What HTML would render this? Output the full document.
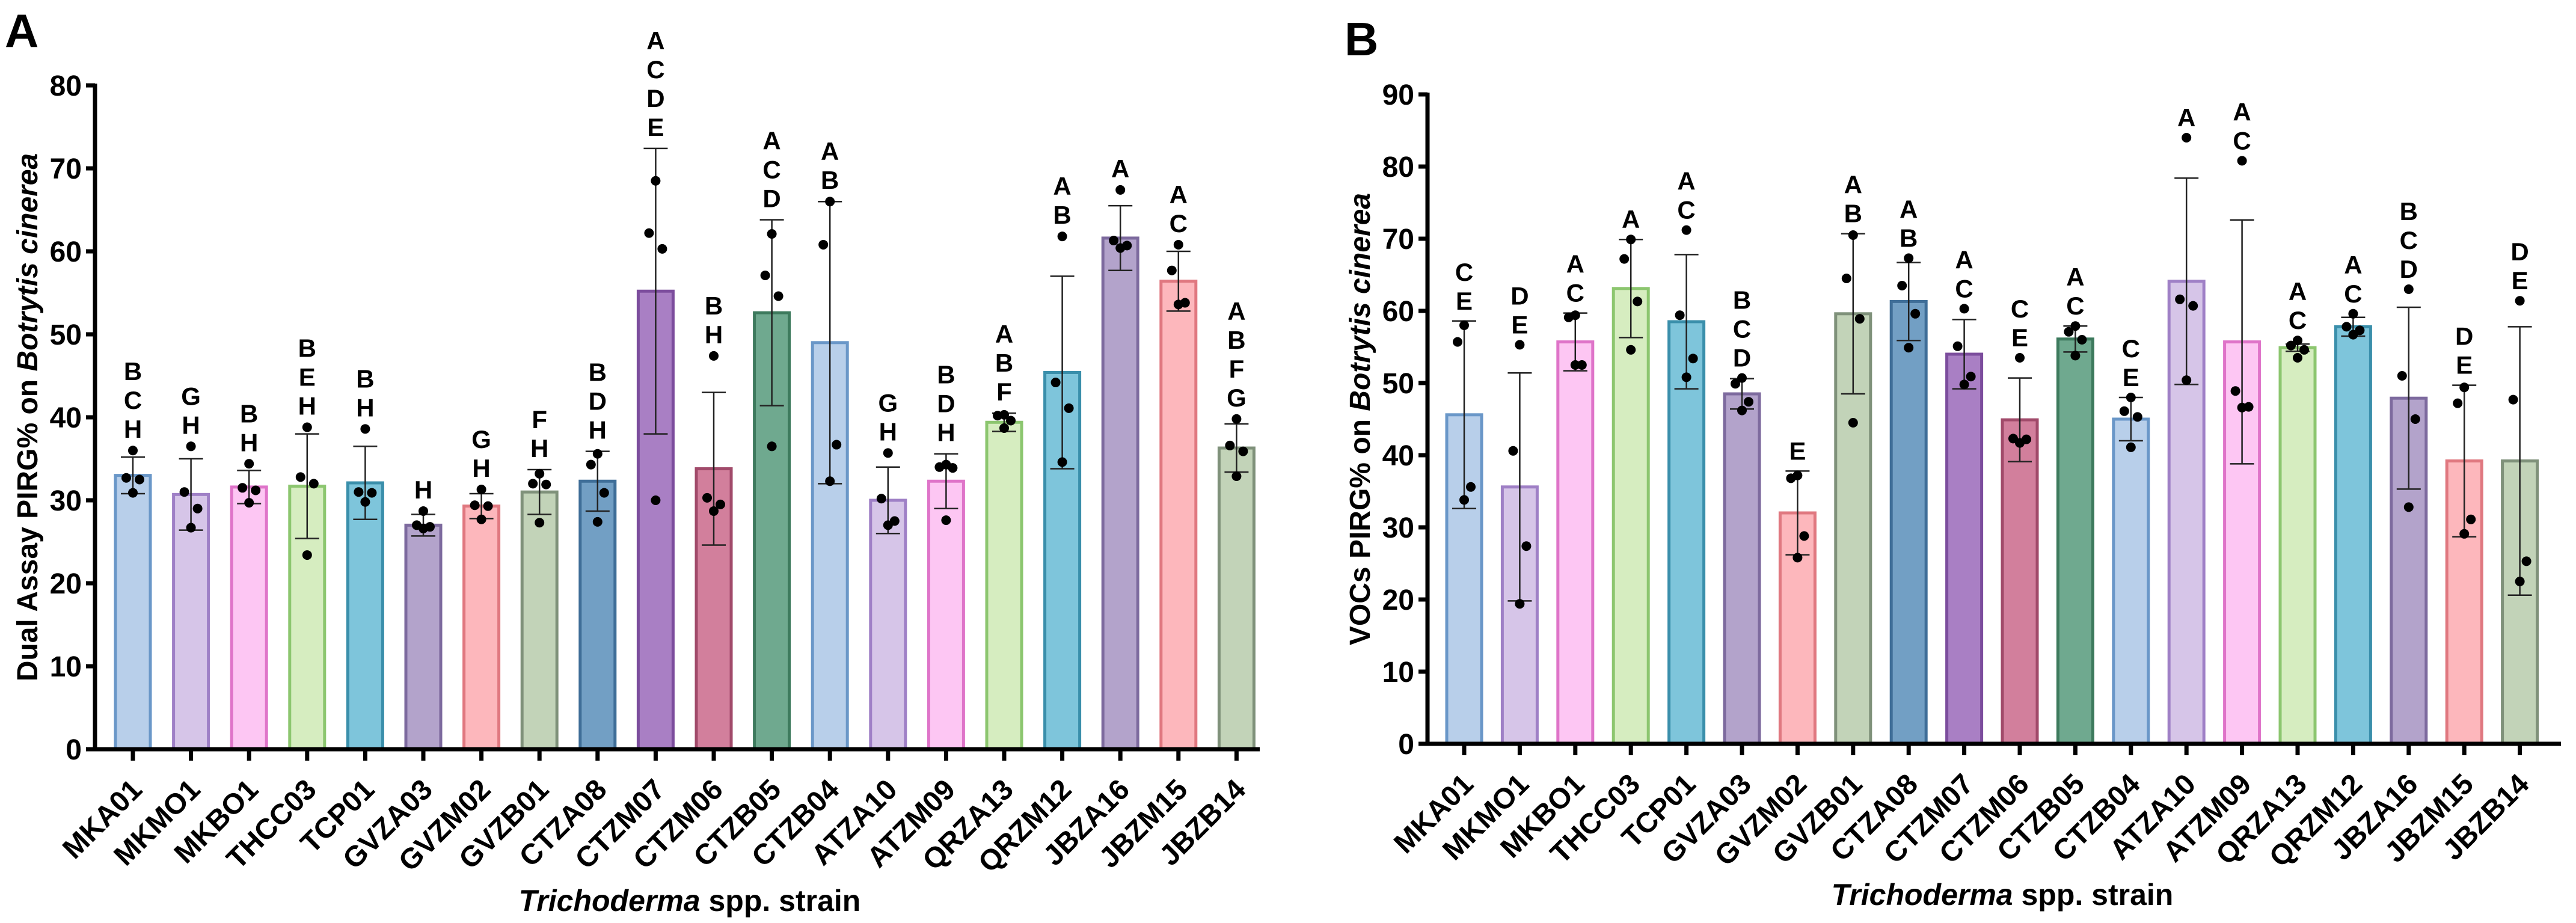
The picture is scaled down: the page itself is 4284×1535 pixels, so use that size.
<!DOCTYPE html>
<html><head><meta charset="utf-8"><style>
html,body{margin:0;padding:0;background:#fff;}
svg{display:block;font-family:"Liberation Sans",Arial,sans-serif;}
</style></head><body>
<svg id="fig" xmlns="http://www.w3.org/2000/svg" width="4284" height="1535" viewBox="0 0 4284 1535">
<rect width="4284" height="1535" fill="#fff"/>
<g id="panelA"></g>
<g id="panelB"></g>
</svg>
<script>
const strains = ["MKA01","MKMO1","MKBO1","THCC03","TCP01","GVZA03","GVZM02","GVZB01","CTZA08","CTZM07","CTZM06","CTZB05","CTZB04","ATZA10","ATZM09","QRZA13","QRZM12","JBZA16","JBZM15","JBZB14"];
const meansA = [33,30.7,31.6,31.7,32.1,27,29.3,31,32.3,55.2,33.8,52.6,49,30,32.3,39.4,45.4,61.6,56.4,36.3];
const sdA = [2.2,4.3,2,6.3,4.4,1.3,1.5,2.7,3.6,17.2,9.2,11.2,17,4,3.3,1.1,11.6,3.9,3.6,2.9];
const pointsA = [[36,32.7,32.5,30.9],[36.5,31,29,26.7],[34.4,31.5,31.2,29.7],[38.8,32.8,32,23.4],[38.6,31,30.9,29.8],[28.7,27,26.8,26.6],[31.3,29.4,29.3,27.7],[33.2,32,31.9,27.3],[35.6,34.3,30.9,27.4],[68.5,62.2,60.3,30],[47.4,30.3,29.5,28.7],[62.1,57.1,54.6,36.5],[66,60.8,36.7,32.3],[35.7,30.2,27.5,27],[34.3,34,33.9,27.6],[40.3,40.2,39.6,38.7],[61.8,44.2,41.1,34.6],[67.4,61.3,60.7,60.4],[60.8,57.7,53.8,53.6],[39.8,36.6,35.9,32.9]];
const lettersA = ["BCH","GH","BH","BEH","BH","H","GH","FH","BDH","ACDE","BH","ACD","AB","GH","BDH","ABF","AB","A","AC","ABFG"];
const ticksA = [0,10,20,30,40,50,60,70,80];

const meansB = [45.6,35.6,55.7,63.1,58.5,48.5,32,59.6,61.3,54,44.9,56.1,45,64.1,55.7,54.9,57.8,47.9,39.2,39.2];
const sdB = [13,15.8,4,6.8,9.3,2.1,5.8,11.1,5.4,4.8,5.8,1.8,3,14.3,16.9,0.5,1.3,12.6,10.5,18.6];
const pointsB = [[58,55.7,35.6,33.8],[55.3,40.6,27.4,19.4],[59.4,59.1,52.5,52.5],[69.9,67.2,61.3,54.6],[71.2,59.4,53.4,50.8],[50.7,49.9,47.4,46.2],[37.2,36.8,28.8,25.8],[70.5,64.5,58.9,44.5],[67.3,63.5,59.6,54.9],[60.3,55.1,50.9,49.8],[53.5,42.3,42.2,41.7],[57.9,57.1,56,53.8],[48,46.1,45.3,41.1],[84,61.6,60.7,50.4],[80.8,48.9,46.7,46.6],[55.9,55.2,54.6,53.5],[59.6,57.8,57.3,56.7],[63,51,45,32.8],[49.4,47.2,31.1,29.1],[61.4,47.7,25.3,22.5]];
const lettersB = ["CE","DE","AC","A","AC","BCD","E","AB","AB","AC","CE","AC","CE","A","AC","AC","AC","BCD","DE","DE"];
const ticksB = [0,10,20,30,40,50,60,70,80,90];

const fills = ["#b8cfea","#d6c5e8","#fdc6f3","#d6edc0","#7ec5db","#b3a3cb","#fdb7bc","#c2d3b8","#729fc4","#a97fc4","#d27f9c","#6fa98f"];
const strokes = ["#6a97c8","#9f80c6","#df74c9","#8cc66f","#3a8fab","#7d6a9e","#e07880","#7f917a","#3f6e98","#7c4d9d","#a14a6a","#3d7a5d"];
const colorIdx = [0,1,2,3,4,5,6,7,8,9,10,11,0,1,2,3,4,5,6,7];

const NS="http://www.w3.org/2000/svg";
function mk(parent, tag, attrs, text){
  const e=document.createElementNS(NS,tag);
  for(const k in attrs) e.setAttribute(k,attrs[k]);
  if(text!==undefined) e.textContent=text;
  parent.appendChild(e); return e;
}

function drawPanel(g, cfg){
  const {means, sd, pts, letters, ticks, ymax, x0, xEnd, y0, yTop, first, step, title, letterGap, panelLabel, plx, ply, titleX, xTitleX, xTitleY} = cfg;
  const ys = v => y0 - (v/ymax)*(y0-yTop);
  const xs = i => first + i*step;
  const bw = 58;
  const pl = mk(g,'text',{x:plx,y:ply,'font-size':78,'font-weight':'bold',fill:'#000'},panelLabel);
  
  
  means.forEach((m,i)=>{
    const c=colorIdx[i];
    const r=mk(g,'rect',{x:xs(i)-bw/2,y:ys(m),width:bw,height:y0-ys(m),fill:fills[c],stroke:strokes[c],'stroke-width':5});
    
    
  });
  means.forEach((m,i)=>{
    const x=xs(i), yt=ys(m+sd[i]), yb=ys(m-sd[i]);
    const eg=mk(g,'g',{stroke:'#222','stroke-width':2.5});
    
    
    mk(eg,'line',{x1:x,x2:x,y1:yt,y2:yb});
    mk(eg,'line',{x1:x-20,x2:x+20,y1:yt,y2:yt});
    mk(eg,'line',{x1:x-20,x2:x+20,y1:yb,y2:yb});
  });
  const jit=[0,-11,11,0];
  pts.forEach((arr,i)=>{
    arr.forEach((v,j)=>{
      const c=mk(g,'circle',{cx:xs(i)+jit[j],cy:ys(v),r:8,fill:'#000'});
      
      
    });
  });
  letters.forEach((s,i)=>{
    const top=Math.max(means[i]+sd[i], ...pts[i]);
    const base=ys(top)-letterGap;
    const n=s.length;
    for(let k=0;k<n;k++){
      const t=mk(g,'text',{x:xs(i),y:base-(n-1-k)*48+15,'text-anchor':'middle','font-size':42,'font-weight':'bold',fill:'#000'},s[k]);
      
      
    }
  });
  const ax=mk(g,'g',{stroke:'#000','stroke-width':7,fill:'none'});
  
  
  mk(ax,'line',{x1:x0,x2:x0,y1:yTop-3,y2:y0+3.5});
  mk(ax,'line',{x1:x0-15,x2:xEnd,y1:y0,y2:y0});
  ticks.forEach(v=>{
    mk(ax,'line',{x1:x0-15,x2:x0,y1:ys(v),y2:ys(v)});
    const t=mk(g,'text',{x:x0-22,y:ys(v)+17,'text-anchor':'end','font-size':48,'font-weight':'bold',fill:'#000'},String(v));
    
    
  });
  strains.forEach((s,i)=>{
    mk(ax,'line',{x1:xs(i),x2:xs(i),y1:y0,y2:y0+19});
    const t=mk(g,'text',{x:0,y:0,'text-anchor':'end','font-size':48,'font-weight':'bold',fill:'#000',transform:`translate(${xs(i)+18},${y0+70}) rotate(-45)`},s);
    
    
  });
  const yt=mk(g,'text',{x:0,y:0,'text-anchor':'middle','font-size':48,'font-weight':'bold',fill:'#000',transform:`translate(${titleX},${(y0+yTop)/2}) rotate(-90)`});
  
  
  mk(yt,'tspan',{},title+'  on ');
  mk(yt,'tspan',{'font-style':'italic'},'Botrytis cinerea');
  const xt=mk(g,'text',{x:xTitleX,y:xTitleY,'text-anchor':'middle','font-size':50,'font-weight':'bold',fill:'#000'});
  
  
  mk(xt,'tspan',{'font-style':'italic'},'Trichoderma');
  mk(xt,'tspan',{},' spp. strain');
}

drawPanel(document.getElementById('panelA'),{means:meansA,sd:sdA,pts:pointsA,letters:lettersA,ticks:ticksA,ymax:80,x0:158,xEnd:2095,y0:1246,yTop:142,first:221,step:96.6,title:'Dual Assay PIRG%',letterGap:36,panelLabel:'A',plx:8,ply:78,titleX:62,xTitleX:1147,xTitleY:1515});
drawPanel(document.getElementById('panelB'),{means:meansB,sd:sdB,pts:pointsB,letters:lettersB,ticks:ticksB,ymax:90,x0:2374,xEnd:4259,y0:1237,yTop:157,first:2435,step:92.4,title:'VOCs PIRG%',letterGap:34,panelLabel:'B',plx:2236,ply:92,titleX:2278,xTitleX:3330,xTitleY:1505});
</script>
</body></html>
